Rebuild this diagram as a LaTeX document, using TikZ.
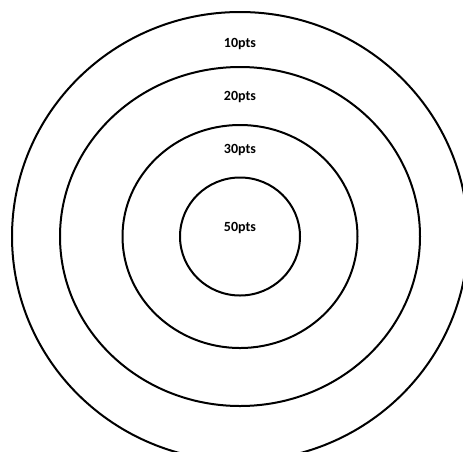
\documentclass[tikz,border=0pt]{standalone}
\usepackage{fontspec}
\setmainfont{Carlito}

\tikzset{
  ring/.style={line width=2pt},
  pts/.style={font=\fontsize{14}{16}\selectfont\bfseries, inner sep=0pt}
}

\begin{document}
\begin{tikzpicture}[x=1pt,y=-1pt]

\useasboundingbox (0,0) rectangle (463,451);

\coordinate (O) at (240,236.5);

% rings, outer to inner
\draw[ring] (O) ellipse [x radius=228,y radius=224.5];
\draw[ring] (O) ellipse [x radius=180,y radius=169.5];
\draw[ring] (O) ellipse [x radius=117.5,y radius=111.5];
\draw[ring] (O) ellipse [x radius=60,y radius=59];

\node[pts] (ten)    at (240,44)  {10pts};
\node[pts] (twenty) at (240,97)  {20pts};
\node[pts] (thirty) at (240,150) {30pts};
\node[pts] (fifty)  at (240,228) {50pts};
\end{tikzpicture}
\end{document}
